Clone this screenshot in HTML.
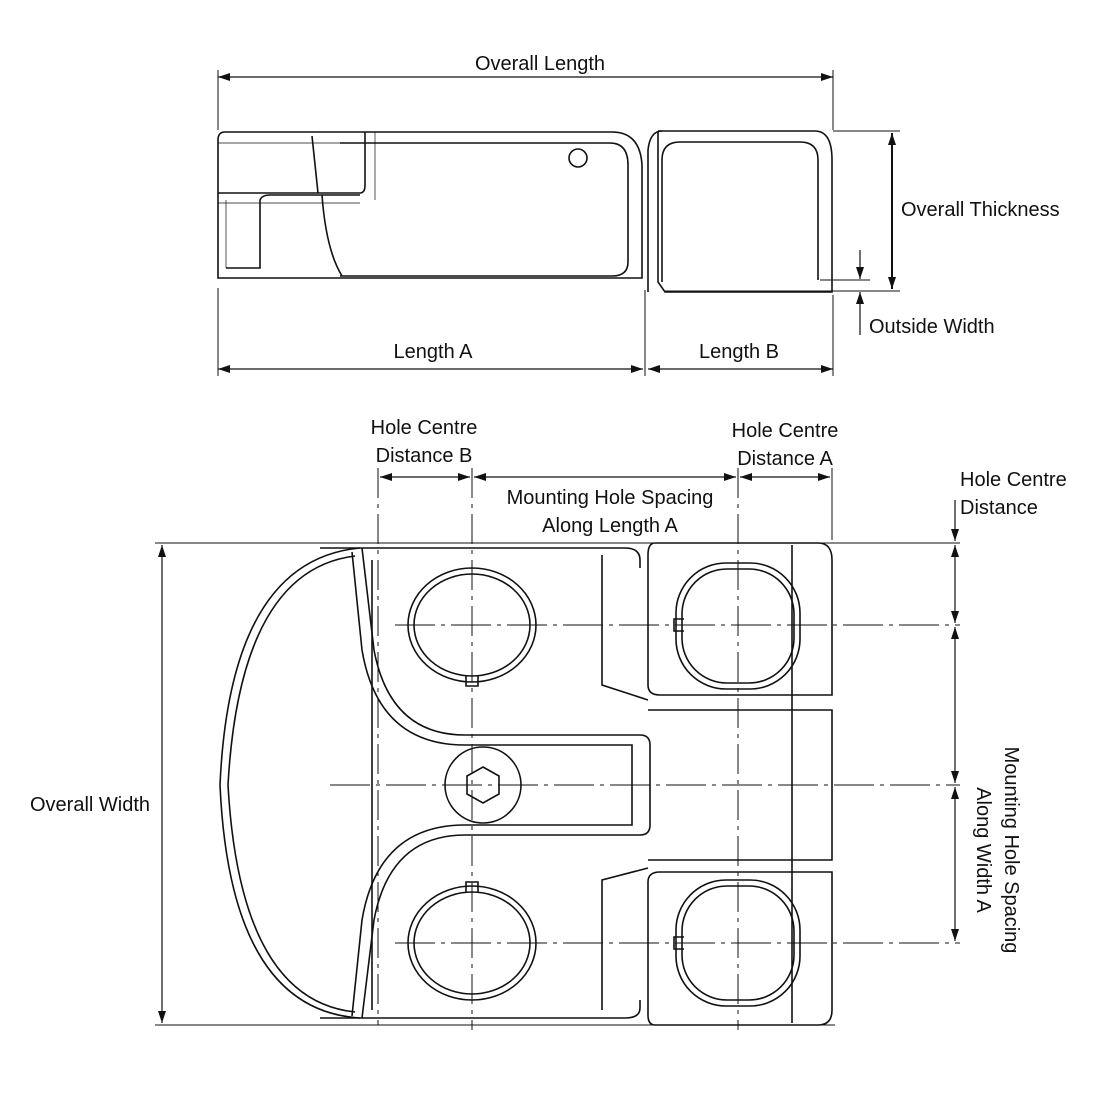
<!DOCTYPE html>
<html><head><style>
html,body{margin:0;padding:0;background:#fff;}
svg{display:block;}
text{font-family:"Liberation Sans",sans-serif;font-size:20px;fill:#111;}
</style></head><body>
<svg width="1100" height="1100" viewBox="0 0 1100 1100" xmlns="http://www.w3.org/2000/svg">
<defs>
<marker id="a" viewBox="0 0 12 8" refX="12" refY="4" markerWidth="12" markerHeight="8" orient="auto-start-reverse" markerUnits="userSpaceOnUse">
<path d="M0,0 L12,4 L0,8 z" fill="#111"/></marker>
</defs>
<g stroke="#111" fill="none">
<g stroke-width="1">
<line x1="218" y1="70" x2="218" y2="130"/><line x1="833" y1="70" x2="833" y2="130"/>
<line x1="218" y1="288" x2="218" y2="376"/><line x1="645" y1="290" x2="645" y2="376"/><line x1="833" y1="295" x2="833" y2="376"/>
<line x1="833" y1="131" x2="900" y2="131"/><line x1="665" y1="291" x2="900" y2="291"/><line x1="820" y1="280" x2="870" y2="280"/>
</g>
<line x1="218" y1="77" x2="833" y2="77" stroke-width="1.2" marker-start="url(#a)" marker-end="url(#a)"/>
<line x1="892" y1="133" x2="892" y2="289" stroke-width="2" marker-start="url(#a)" marker-end="url(#a)"/>
<line x1="860" y1="250" x2="860" y2="279" stroke-width="1.2" marker-end="url(#a)"/>
<line x1="860" y1="335" x2="860" y2="292" stroke-width="1.2" marker-end="url(#a)"/>
<line x1="218" y1="369" x2="643" y2="369" stroke-width="1.2" marker-start="url(#a)" marker-end="url(#a)"/>
<line x1="648" y1="369" x2="833" y2="369" stroke-width="1.2" marker-start="url(#a)" marker-end="url(#a)"/>
<g stroke-width="1.6">
<path d="M225,132 H612 Q640,132 642,165 V278 H218 V140 Q218,132 225,132 Z"/>
<path d="M340,143 H610 Q628,143 628,165 V262 Q628,276 612,276 H340"/>
<path d="M218,193 H360 Q365,193 365,185 V132"/>
<path d="M226,268 H260 V200 Q262,195 270,195 H360"/>
<path d="M322,195 Q326,250 342,276"/>
<path d="M312,136 L318,193"/>
<circle cx="578" cy="158" r="9"/>
<path d="M658,131 H815 Q832,131 832,160 V292 H665 L658,282 V150 Q658,131 658,131"/>
<path d="M648,292 V150 Q650,131 662,131"/>
<path d="M662,282 V160 Q662,142 680,142 H800 Q818,142 818,160 V280"/>
</g>
<g stroke-width="0.7"><line x1="226" y1="200" x2="226" y2="268"/><line x1="218" y1="203" x2="360" y2="203"/><line x1="375" y1="132" x2="375" y2="200"/><line x1="218" y1="143" x2="340" y2="143"/></g>

<g stroke-width="1">
<line x1="155" y1="543" x2="960" y2="543"/><line x1="155" y1="1025" x2="835" y2="1025"/>
<line x1="378" y1="468" x2="378" y2="1025" stroke-dasharray="30,6,4,6"/>
<line x1="472" y1="468" x2="472" y2="1030" stroke-dasharray="30,6,4,6"/>
<line x1="738" y1="468" x2="738" y2="1030" stroke-dasharray="30,6,4,6"/>
<line x1="832" y1="468" x2="832" y2="540"/>
<line x1="395" y1="625" x2="960" y2="625" stroke-dasharray="40,6,4,6"/>
<line x1="330" y1="785" x2="960" y2="785" stroke-dasharray="40,6,4,6"/>
<line x1="395" y1="943" x2="960" y2="943" stroke-dasharray="40,6,4,6"/>
</g>
<line x1="162" y1="545" x2="162" y2="1023" stroke-width="1.2" marker-start="url(#a)" marker-end="url(#a)"/>
<line x1="380" y1="477" x2="470" y2="477" stroke-width="1.2" marker-start="url(#a)" marker-end="url(#a)"/>
<line x1="474" y1="477" x2="736" y2="477" stroke-width="1.2" marker-start="url(#a)" marker-end="url(#a)"/>
<line x1="740" y1="477" x2="830" y2="477" stroke-width="1.2" marker-start="url(#a)" marker-end="url(#a)"/>
<line x1="955" y1="500" x2="955" y2="541" stroke-width="1.2" marker-end="url(#a)"/>
<line x1="955" y1="545" x2="955" y2="623" stroke-width="1.2" marker-start="url(#a)" marker-end="url(#a)"/>
<line x1="955" y1="627" x2="955" y2="783" stroke-width="1.2" marker-start="url(#a)" marker-end="url(#a)"/>
<line x1="955" y1="787" x2="955" y2="941" stroke-width="1.2" marker-start="url(#a)" marker-end="url(#a)"/>

<g stroke-width="1.6">
<path d="M360,548 Q230,560 220,785 Q230,1010 360,1018"/>
<path d="M355,556 Q240,570 228,785 Q240,1000 355,1012"/>
<path d="M320,548 H625 Q640,548 640,560 V568"/>
<path d="M320,1018 H625 Q640,1018 640,1008 V1000"/>
<path d="M362,548 L374,650 Q390,735 465,735 H640 Q650,735 650,745 V825 Q650,835 640,835 H465 Q390,835 374,920 L362,1018"/>
<path d="M352,552 L362,650 Q378,745 465,745 H632 V825 H465 Q378,825 362,920 L352,1016"/>
<path d="M372,560 V1010"/>
<path d="M602,555 V685 L648,700"/>
<path d="M602,1010 V880 L648,868"/>
<path d="M655,543 H818 Q832,543 832,560 V695 H660 Q648,695 648,685 V555 Q648,543 655,543"/>
<path d="M648,710 H832 V860 H648"/>
<path d="M655,1025 H818 Q832,1025 832,1010 V872 H660 Q648,872 648,882 V1015 Q648,1025 655,1025"/>
<path d="M792,545 V1023"/>
<ellipse cx="472" cy="625" rx="64" ry="57"/>
<ellipse cx="472" cy="625" rx="58" ry="51"/>
<ellipse cx="472" cy="943" rx="64" ry="57"/>
<ellipse cx="472" cy="943" rx="58" ry="51"/>
<rect x="676" y="563" width="124" height="126" rx="50"/>
<rect x="682" y="569" width="112" height="114" rx="45"/>
<rect x="676" y="880" width="124" height="126" rx="50"/>
<rect x="682" y="886" width="112" height="114" rx="45"/>
<path d="M466,676 V686 H478 V676"/><path d="M466,892 V882 H478 V892"/>
<path d="M684,619 H674 V631 H684"/><path d="M684,937 H674 V949 H684"/>
<circle cx="483" cy="785" r="38"/>
<polygon points="483,767 499,776 499,794 483,803 467,794 467,776"/>
</g>
</g>
<text x="540" y="70" text-anchor="middle">Overall Length</text>
<text x="901" y="216">Overall Thickness</text>
<text x="869" y="333">Outside Width</text>
<text x="433" y="358" text-anchor="middle">Length A</text>
<text x="739" y="358" text-anchor="middle">Length B</text>
<text x="424" y="434" text-anchor="middle">Hole Centre</text>
<text x="424" y="462" text-anchor="middle">Distance B</text>
<text x="785" y="437" text-anchor="middle">Hole Centre</text>
<text x="785" y="465" text-anchor="middle">Distance A</text>
<text x="610" y="504" text-anchor="middle">Mounting Hole Spacing</text>
<text x="610" y="532" text-anchor="middle">Along Length A</text>
<text x="960" y="486">Hole Centre</text>
<text x="960" y="514">Distance</text>
<text x="90" y="811" text-anchor="middle">Overall Width</text>
<g transform="translate(1005,850) rotate(90)">
<text x="0" y="0" text-anchor="middle">Mounting Hole Spacing</text>
<text x="0" y="28" text-anchor="middle">Along Width A</text>
</g>
</svg>
</body></html>
